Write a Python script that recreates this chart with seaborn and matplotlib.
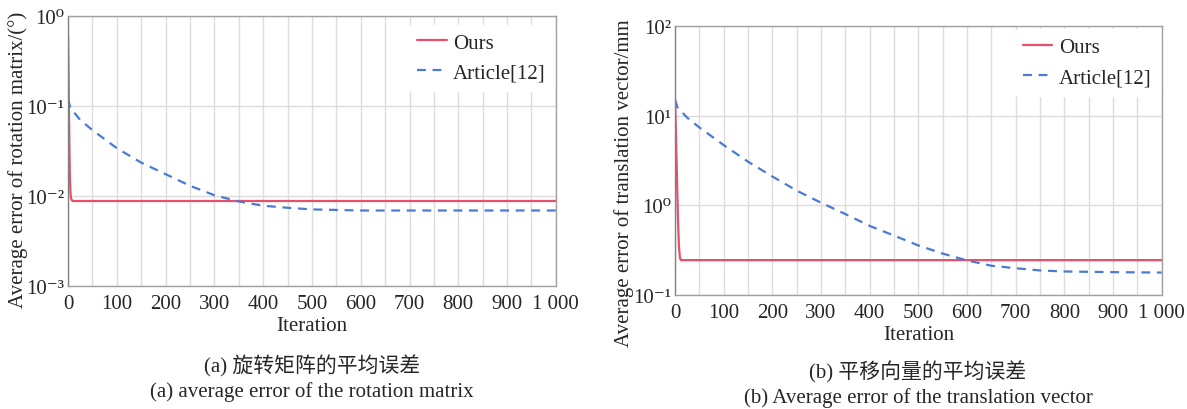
import numpy as np
import pandas as pd
import seaborn as sns
import matplotlib
matplotlib.use("Agg")
import matplotlib.pyplot as plt
from matplotlib.ticker import MultipleLocator

# rotation matrix error (a)
rot_ours_it = [0, 1, 2, 3, 4, 5, 6, 8, 10, 1000]
rot_ours = [0.6, 0.25, 0.08, 0.03, 0.015, 0.011, 0.0095, 0.0089, 0.0088, 0.0088]
rot_art_it = [0, 5, 25, 50, 100, 150, 200, 250, 300, 350, 400, 450, 500, 600, 700, 800, 900, 1000]
rot_art = [0.12, 0.095, 0.07, 0.054, 0.034, 0.0235, 0.0175, 0.013, 0.0102, 0.0087,
           0.0078, 0.0074, 0.0071, 0.0069, 0.0069, 0.0069, 0.0069, 0.0069]

# translation vector error (b)
tr_ours_it = [0, 2, 4, 6, 8, 10, 12, 1000]
tr_ours = [15, 6, 2, 0.7, 0.35, 0.26, 0.245, 0.245]
tr_art_it = [0, 5, 25, 50, 100, 150, 200, 250, 300, 350, 400, 450, 500, 550, 600, 650,
             700, 750, 800, 900, 1000]
tr_art = [15, 12.4, 9.5, 7.4, 4.7, 3.07, 2.1, 1.46, 1.07, 0.80, 0.59, 0.46, 0.357, 0.29,
          0.243, 0.212, 0.199, 0.188, 0.183, 0.18, 0.178]

xtick_vals = [0, 100, 200, 300, 400, 500, 600, 700, 800, 900, 1000]
xtick_labels = ["0", "100", "200", "300", "400", "500", "600", "700", "800", "900", "1 000"]
rot_ytick_labels = ["10⁻³", "10⁻²", "10⁻¹", "10⁰"]
tr_ytick_labels = ["10⁻¹", "10⁰", "10¹", "10²"]

sns.set_theme(style="white")
plt.rcParams['font.family'] = ['Liberation Serif', 'DejaVu Serif', 'Noto Sans CJK SC']

red = "#e5506a"
blue = "#4a7bd4"


def make_df(ours_it, ours, art_it, art):
    a = pd.DataFrame({"Iteration": ours_it, "err": ours, "method": "Ours"})
    b = pd.DataFrame({"Iteration": art_it, "err": art, "method": "Article[12]"})
    return pd.concat([a, b], ignore_index=True)


fig = plt.figure(figsize=(11.87, 4.10), dpi=100)
ax1 = fig.add_axes([0.0573, 0.300, 0.411, 0.6585])
ax2 = fig.add_axes([0.5687, 0.278, 0.410, 0.656])

panels = [
    (ax1, make_df(rot_ours_it, rot_ours, rot_art_it, rot_art), (1e-3, 1), [-3, -2, -1, 0],
     rot_ytick_labels, "Average error of rotation matrix/(°)", (1.0, 0.975)),
    (ax2, make_df(tr_ours_it, tr_ours, tr_art_it, tr_art), (1e-1, 100), [-1, 0, 1, 2],
     tr_ytick_labels, "Average error of translation vector/mm", (1.0, 0.995)),
]

for ax, df, ylim, exps, ylabels, ylab, legpos in panels:
    sns.lineplot(data=df, x="Iteration", y="err", hue="method", style="method",
                 palette={"Ours": red, "Article[12]": blue},
                 dashes={"Ours": "", "Article[12]": (4, 3)},
                 linewidth=1.6, ax=ax)
    ax.set_yscale("log")
    ax.set_ylim(*ylim)
    ax.set_xlim(0, 1000)
    ax.set_yticks([10.0 ** e for e in exps])
    ax.set_yticklabels(ylabels)
    ax.minorticks_off()
    ax.set_xticks(xtick_vals)
    ax.set_xticklabels(xtick_labels)
    ax.xaxis.set_minor_locator(MultipleLocator(50))
    ax.grid(True, which="both", axis="x", color="#dcdcdc", linewidth=1)
    ax.grid(True, which="major", axis="y", color="#dcdcdc", linewidth=1)
    ax.tick_params(axis="both", which="both", length=0, labelsize=15)
    ax.tick_params(axis="x", pad=6)
    ax.tick_params(axis="y", pad=3)
    for s in ax.spines.values():
        s.set_color("#a0a0a0")
        s.set_linewidth(1)
    ax.spines["left"].set_color("#808080")
    ax.set_xlabel("Iteration", fontsize=15, labelpad=2)
    ax.set_ylabel(ylab, fontsize=15)
    leg = ax.legend(loc="upper right", bbox_to_anchor=legpos, frameon=True, fontsize=15,
                    handlelength=1.4, handletextpad=0.3, borderaxespad=0.1, labelspacing=0.5)
    leg.get_frame().set_facecolor("white")
    leg.get_frame().set_edgecolor("white")
    leg.get_frame().set_alpha(1)

ax1.yaxis.set_label_coords(-0.082, 0.47)
ax2.yaxis.set_label_coords(-0.084, 0.42)

fig.text(312 / 1187, 1 - 366 / 410, "(a) 旋转矩阵的平均误差", ha="center", va="center", fontsize=15)
fig.text(312 / 1187, 1 - 392 / 410, "(a) average error of the rotation matrix", ha="center",
         va="center", fontsize=15)
fig.text(918 / 1187, 1 - 372 / 410, "(b) 平移向量的平均误差", ha="center", va="center", fontsize=15)
fig.text(918 / 1187, 1 - 398 / 410, "(b) Average error of the translation vector", ha="center",
         va="center", fontsize=15)

fig.savefig("out.png", dpi=100)
